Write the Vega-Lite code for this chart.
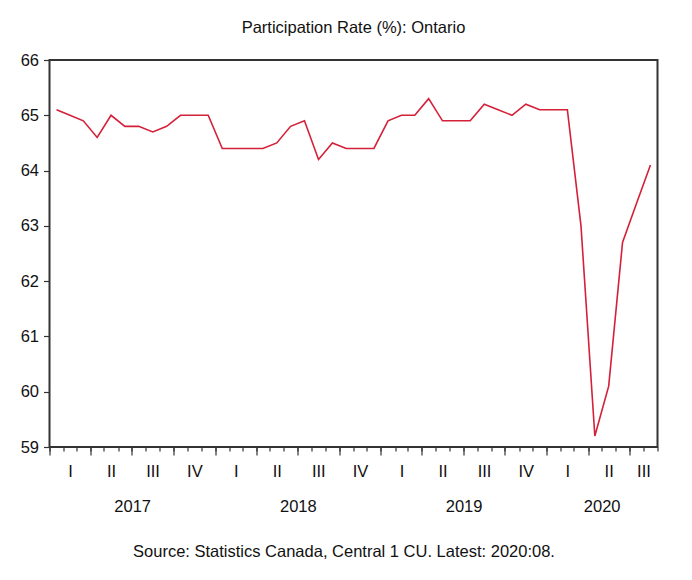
{
  "$schema": "https://vega.github.io/schema/vega-lite/v6.json",
  "width": 608,
  "height": 387,
  "autosize": {"type": "none"},
  "padding": {"left": 49.5, "top": 60, "right": 34.5, "bottom": 133},
  "background": "white",
  "title": {
    "text": "Participation Rate (%): Ontario",
    "frame": "group",
    "anchor": "middle",
    "orient": "top",
    "offset": 3,
    "baseline": "alphabetic",
    "font": "Liberation Sans",
    "fontSize": 16.5,
    "fontWeight": "normal",
    "color": "#111111"
  },
  "data": {
    "values": [
      {"date": "2017-01", "value": 65.1},
      {"date": "2017-02", "value": 65.0},
      {"date": "2017-03", "value": 64.9},
      {"date": "2017-04", "value": 64.6},
      {"date": "2017-05", "value": 65.0},
      {"date": "2017-06", "value": 64.8},
      {"date": "2017-07", "value": 64.8},
      {"date": "2017-08", "value": 64.7},
      {"date": "2017-09", "value": 64.8},
      {"date": "2017-10", "value": 65.0},
      {"date": "2017-11", "value": 65.0},
      {"date": "2017-12", "value": 65.0},
      {"date": "2018-01", "value": 64.4},
      {"date": "2018-02", "value": 64.4},
      {"date": "2018-03", "value": 64.4},
      {"date": "2018-04", "value": 64.4},
      {"date": "2018-05", "value": 64.5},
      {"date": "2018-06", "value": 64.8},
      {"date": "2018-07", "value": 64.9},
      {"date": "2018-08", "value": 64.2},
      {"date": "2018-09", "value": 64.5},
      {"date": "2018-10", "value": 64.4},
      {"date": "2018-11", "value": 64.4},
      {"date": "2018-12", "value": 64.4},
      {"date": "2019-01", "value": 64.9},
      {"date": "2019-02", "value": 65.0},
      {"date": "2019-03", "value": 65.0},
      {"date": "2019-04", "value": 65.3},
      {"date": "2019-05", "value": 64.9},
      {"date": "2019-06", "value": 64.9},
      {"date": "2019-07", "value": 64.9},
      {"date": "2019-08", "value": 65.2},
      {"date": "2019-09", "value": 65.1},
      {"date": "2019-10", "value": 65.0},
      {"date": "2019-11", "value": 65.2},
      {"date": "2019-12", "value": 65.1},
      {"date": "2020-01", "value": 65.1},
      {"date": "2020-02", "value": 65.1},
      {"date": "2020-03", "value": 63.0},
      {"date": "2020-04", "value": 59.2},
      {"date": "2020-05", "value": 60.1},
      {"date": "2020-06", "value": 62.7},
      {"date": "2020-07", "value": 63.4},
      {"date": "2020-08", "value": 64.1}
    ]
  },
  "layer": [
    {
      "mark": {"type": "line", "color": "#d42038", "strokeWidth": 1.6},
      "encoding": {
        "x": {
          "field": "date", "timeUnit": "utcyearmonth", "type": "temporal", "bandPosition": 0.5,
          "scale": {"domain": [{"year": 2017, "month": 1, "date": 1, "utc": true}, {"year": 2020, "month": 9, "date": 1, "utc": true}], "nice": false},
          "axis": {"orient": "bottom", "title": null, "labels": false, "tickCount": {"interval": "month", "step": 1}, "tickSize": 4, "tickWidth": 1.2}
        },
        "y": {
          "field": "value", "type": "quantitative",
          "scale": {"domain": [59, 66], "nice": false, "zero": false},
          "axis": {"orient": "left", "title": null, "values": [59, 60, 61, 62, 63, 64, 65, 66], "tickSize": 6, "tickWidth": 1.2, "labelPadding": 5}
        }
      }
    },
    {
      "mark": {"type": "point", "opacity": 0},
      "encoding": {
        "x": {
          "field": "date", "timeUnit": "utcyearmonth", "type": "temporal", "bandPosition": 0.5,
          "axis": {"orient": "bottom", "title": null, "labels": false, "tickCount": {"interval": "month", "step": 3}, "tickSize": 8, "tickWidth": 1.2}
        },
        "y": {"field": "value", "type": "quantitative", "axis": null}
      }
    },
    {
      "mark": {"type": "point", "opacity": 0},
      "encoding": {
        "x": {
          "field": "date", "timeUnit": "utcyearmonth", "type": "temporal", "bandPosition": 0.5,
          "axis": {
            "orient": "bottom", "title": null, "ticks": false, "tickSize": 0, "labelPadding": 29.4, "labelBaseline": "alphabetic",
            "values": [
              {"year": 2017, "month": 2, "date": 15, "hours": 12, "utc": true},
              {"year": 2017, "month": 5, "date": 16, "hours": 12, "utc": true},
              {"year": 2017, "month": 8, "date": 16, "utc": true},
              {"year": 2017, "month": 11, "date": 16, "utc": true},
              {"year": 2018, "month": 2, "date": 15, "hours": 12, "utc": true},
              {"year": 2018, "month": 5, "date": 16, "hours": 12, "utc": true},
              {"year": 2018, "month": 8, "date": 16, "utc": true},
              {"year": 2018, "month": 11, "date": 16, "utc": true},
              {"year": 2019, "month": 2, "date": 15, "hours": 12, "utc": true},
              {"year": 2019, "month": 5, "date": 16, "hours": 12, "utc": true},
              {"year": 2019, "month": 8, "date": 16, "utc": true},
              {"year": 2019, "month": 11, "date": 16, "utc": true},
              {"year": 2020, "month": 2, "date": 15, "hours": 12, "utc": true},
              {"year": 2020, "month": 5, "date": 16, "hours": 12, "utc": true},
              {"year": 2020, "month": 8, "date": 1, "utc": true}
            ],
            "labelExpr": "utcmonth(datum.value) < 3 ? 'I' : utcmonth(datum.value) < 6 ? 'II' : utcmonth(datum.value) < 9 ? 'III' : 'IV'"
          }
        },
        "y": {"field": "value", "type": "quantitative", "axis": null}
      }
    },
    {
      "mark": {"type": "point", "opacity": 0},
      "encoding": {
        "x": {
          "field": "date", "timeUnit": "utcyearmonth", "type": "temporal", "bandPosition": 0.5,
          "axis": {
            "orient": "bottom", "ticks": false, "tickSize": 0, "labelPadding": 64.4, "labelBaseline": "alphabetic",
            "values": [
              {"year": 2017, "month": 7, "date": 2, "utc": true},
              {"year": 2018, "month": 7, "date": 2, "utc": true},
              {"year": 2019, "month": 7, "date": 2, "utc": true},
              {"year": 2020, "month": 5, "date": 1, "utc": true}
            ],
            "labelExpr": "utcFormat(datum.value, '%Y')",
            "title": "Source: Statistics Canada, Central 1 CU. Latest: 2020:08.",
            "titleX": 294,
            "titleY": 109.4,
            "titleAlign": "center",
            "titleBaseline": "alphabetic"
          }
        },
        "y": {"field": "value", "type": "quantitative", "axis": null}
      }
    }
  ],
  "resolve": {"axis": {"x": "independent", "y": "independent"}},
  "config": {
    "view": {"stroke": "#333333", "strokeWidth": 2},
    "font": "Liberation Sans",
    "axis": {
      "grid": false,
      "domain": false,
      "labelFont": "Liberation Sans",
      "labelFontSize": 16.5,
      "labelColor": "#111111",
      "tickColor": "#333333",
      "labelOverlap": false,
      "labelFlush": false,
      "labelBound": false,
      "titleFont": "Liberation Sans",
      "titleFontSize": 16.5,
      "titleFontWeight": "normal",
      "titleColor": "#111111"
    }
  }
}
